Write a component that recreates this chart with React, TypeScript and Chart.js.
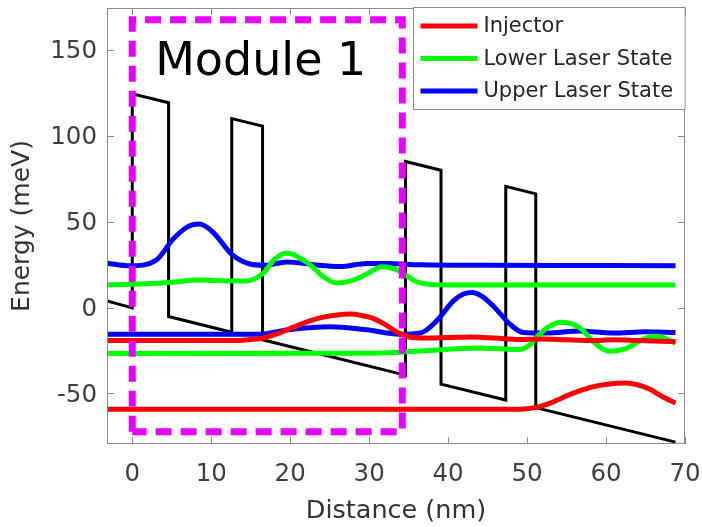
import React, { useEffect, useRef } from "react";
import { Chart, registerables } from "chart.js";

Chart.register(...registerables);

// ---- axes ----
const xTicks = [0, 10, 20, 30, 40, 50, 60, 70];
const yTicks = [-50, 0, 50, 100, 150];
const xMin = -3.2;
const xMax = 70;
const yMin = -79.5;
const yMax = 174.5;

// ---- conduction band profile (meV vs nm) ----
const bandX = [-3.2, 0, 0, 4.6, 4.6, 12.6, 12.6, 16.5, 16.5, 34.6, 34.6, 39.1, 39.1, 47.3, 47.3, 51.1, 51.1, 68.8];
const bandY = [3.8, -0.2, 124.5, 119.3, -5.2, -14.4, 110.1, 105.7, -18.8, -39.4, 85.1, 80.0, -44.6, -53.9, 70.6, 66.2, -58.3, -78.4];

// ---- module 1 states ----
const injector1X = [-3.2, 13, 14.5, 16.4, 18.5, 20.5, 22.5, 24.5, 26, 27.6, 29, 30.5, 32, 33.5, 35, 37, 40, 43, 46, 49, 52, 55, 58, 61, 64, 67, 68.8];
const injector1Y = [-19.2, -19.2, -18.8, -17.9, -15, -11.3, -7.8, -5.3, -4.3, -3.8, -4.6, -6.3, -9.8, -14.2, -17, -17.8, -17.5, -17.2, -17.8, -18.6, -18.3, -18.8, -19.2, -18.8, -19.2, -19.6, -19.8];

const lower1X = [-3.2, 0, 4.5, 8.6, 12.5, 14.5, 16.6, 18, 19.6, 21, 22.5, 24.2, 25.9, 27.7, 29.7, 31.6, 33.2, 34.6, 36, 37.5, 40, 68.8];
const lower1Y = [13.3, 13.5, 14.6, 16, 15.5, 15.5, 20, 28, 31.7, 29.5, 25, 18, 14.3, 15.5, 19.5, 23.8, 22.5, 19, 15, 13.5, 13.2, 13.2];

const upper1X = [-3.2, -0.3, 3, 5.2, 7, 8.5, 10.2, 12.6, 14.8, 16.8, 19.6, 22.9, 26.3, 29.7, 32.2, 36.5, 45, 55, 68.8];
const upper1Y = [25.8, 24.3, 27.5, 40, 47, 48.6, 44, 31, 25.5, 24.6, 26.6, 25, 23.9, 25.7, 25.7, 24.9, 24.6, 24.5, 24.4];

// ---- module 2 states ----
const injector2X = [-3.2, 49, 51, 53, 55, 57, 59, 61, 62.5, 64, 65.5, 67, 68.8];
const injector2Y = [-59.2, -59.2, -58.3, -55.5, -51.5, -48, -45.5, -44.2, -44, -45, -47.5, -51.5, -55.7];

const lower2X = [-3.2, 30, 34, 37.7, 41, 44, 47, 49.1, 50.4, 51.5, 52.8, 54.3, 55.7, 57, 58.4, 60.5, 62.6, 64.3, 66, 67.3, 68.8];
const lower2Y = [-26.8, -26.6, -26, -25, -24, -23.6, -24.2, -24.5, -21.5, -16, -11, -8.5, -9.5, -13, -20, -25.5, -23.8, -19.5, -16.8, -17.5, -20.8];

const upper2X = [-3.2, 16, 20, 25, 29.7, 33.8, 36.5, 38.6, 40.7, 42, 43.1, 44.3, 45.8, 47.9, 49.5, 52.5, 56.7, 60.9, 65, 68.8];
const upper2Y = [-15.6, -15.6, -12.8, -11.2, -13, -15.5, -14.8, -7.5, 4, 8, 8.8, 6.5, 0.5, -10, -14.5, -14.8, -13.6, -14.9, -14.1, -14.6];

// ---- module outline ----
const moduleBoxX = [0, 0, 34.2, 34.2, 0];
const moduleBoxY = [-72.4, 167.7, 167.7, -72.4, -72.4];
const moduleText = "Module 1";

const legendLabels = ["Injector", "Lower Laser State", "Upper Laser State"];

const RED = "#ff0000";
const GREEN = "#00ff00";
const BLUE = "#0000ff";
const MAGENTA = "#e600ff";
const FONT = '"DejaVu Sans", sans-serif';

const pts = (xs: number[], ys: number[]) => xs.map((x, i) => ({ x, y: ys[i] }));

const waveStyle = (color: string) => ({
  borderColor: color,
  backgroundColor: color,
  borderWidth: 5,
  pointRadius: 0,
  cubicInterpolationMode: "monotone" as const,
  fill: false,
  order: 1,
});

const framePlugin = {
  id: "frame",
  afterDatasetsDraw(chart: any) {
    const { ctx, chartArea, scales } = chart;
    const { left, right, top, bottom } = chartArea;
    const xs = scales.x;
    const ys = scales.y;
    ctx.save();
    // module label
    ctx.font = `46px ${FONT}`;
    ctx.fillStyle = "#000";
    ctx.textBaseline = "alphabetic";
    ctx.textAlign = "left";
    ctx.fillText(moduleText, xs.getPixelForValue(2.9), ys.getPixelForValue(135.6));

    // box
    ctx.strokeStyle = "#8c8c8c";
    ctx.lineWidth = 1;
    ctx.strokeRect(left + 0.5, top + 0.5, right - left - 1, bottom - top - 1);
    ctx.beginPath();
    xTicks.forEach((v) => {
      const px = Math.round(xs.getPixelForValue(v)) + 0.5;
      ctx.moveTo(px, bottom);
      ctx.lineTo(px, bottom - 7);
      ctx.moveTo(px, top);
      ctx.lineTo(px, top + 7);
    });
    yTicks.forEach((v) => {
      const py = Math.round(ys.getPixelForValue(v)) + 0.5;
      ctx.moveTo(left, py);
      ctx.lineTo(left + 7, py);
      ctx.moveTo(right, py);
      ctx.lineTo(right - 7, py);
    });
    ctx.stroke();

    // legend
    const items = chart.data.datasets.filter((d: any) => legendLabels.includes(d.label));
    ctx.font = `21px ${FONT}`;
    let maxW = 0;
    items.forEach((d: any) => {
      maxW = Math.max(maxW, ctx.measureText(d.label).width);
    });
    const boxW = 70 + maxW + 12;
    const boxH = 102;
    const bx = Math.round(right - boxW) + 0.5;
    const by = top - 0.5;
    ctx.fillStyle = "#fff";
    ctx.fillRect(bx, by, boxW, boxH);
    ctx.strokeStyle = "#8c8c8c";
    ctx.strokeRect(bx, by, boxW, boxH);
    items.forEach((d: any, i: number) => {
      const rowY = by + 18.5 + i * 32.5;
      ctx.strokeStyle = d.borderColor;
      ctx.lineWidth = 5;
      ctx.beginPath();
      ctx.moveTo(bx + 7, rowY);
      ctx.lineTo(bx + 64, rowY);
      ctx.stroke();
      ctx.fillStyle = "#262626";
      ctx.textBaseline = "middle";
      ctx.fillText(d.label, bx + 70, rowY + 1);
    });
    ctx.restore();
  },
};

export default function App() {
  const ref = useRef<HTMLCanvasElement | null>(null);
  useEffect(() => {
    if (!ref.current) return;
    const chart = new Chart(ref.current, {
      type: "line",
      data: {
        datasets: [
          {
            label: "module",
            data: pts(moduleBoxX, moduleBoxY),
            borderColor: MAGENTA,
            borderWidth: 7,
            borderDash: [16, 9],
            borderCapStyle: "butt",
            pointRadius: 0,
            tension: 0,
            fill: false,
            order: 0,
          } as any,
          { label: "Injector", data: pts(injector1X, injector1Y), ...waveStyle(RED) },
          { label: "Lower Laser State", data: pts(lower1X, lower1Y), ...waveStyle(GREEN) },
          { label: "Upper Laser State", data: pts(upper1X, upper1Y), ...waveStyle(BLUE) },
          { label: "injector2", data: pts(injector2X, injector2Y), ...waveStyle(RED) },
          { label: "lower2", data: pts(lower2X, lower2Y), ...waveStyle(GREEN) },
          { label: "upper2", data: pts(upper2X, upper2Y), ...waveStyle(BLUE) },
          {
            label: "band",
            data: pts(bandX, bandY),
            borderColor: "#000",
            borderWidth: 3,
            pointRadius: 0,
            tension: 0,
            fill: false,
            order: 2,
          },
        ],
      },
      options: {
        animation: false,
        responsive: false,
        maintainAspectRatio: false,
        parsing: false as any,
        layout: { padding: { left: 0, right: 17, top: 8, bottom: 0 } },
        plugins: {
          legend: { display: false },
          tooltip: { enabled: false },
        },
        scales: {
          x: {
            type: "linear",
            min: xMin,
            max: xMax,
            afterFit: (s: any) => {
              s.height = 83;
              s.paddingLeft = 0;
              s.paddingRight = 0;
            },
            afterBuildTicks: (s: any) => {
              s.ticks = xTicks.map((v) => ({ value: v }));
            },
            grid: { display: false, drawTicks: false },
            border: { display: false },
            ticks: {
              padding: 16,
              color: "#404040",
              font: { family: FONT, size: 24.5 },
              maxRotation: 0,
              callback: (v: any) => String(v),
            },
            title: {
              display: true,
              text: "Distance (nm)",
              color: "#333",
              font: { family: FONT, size: 25.5 },
              padding: { top: 0, bottom: 0 },
            },
          },
          y: {
            type: "linear",
            min: yMin,
            max: yMax,
            afterFit: (s: any) => {
              s.width = 107;
              s.paddingTop = 0;
              s.paddingBottom = 0;
            },
            afterBuildTicks: (s: any) => {
              s.ticks = yTicks.map((v) => ({ value: v }));
            },
            grid: { display: false, drawTicks: false },
            border: { display: false },
            ticks: {
              padding: 10,
              labelOffset: 2,
              color: "#404040",
              font: { family: FONT, size: 24.5 },
              callback: (v: any) => String(v),
            },
            title: {
              display: true,
              text: "Energy (meV)",
              color: "#333",
              font: { family: FONT, size: 25 },
              padding: { top: 7, bottom: 0 },
            },
          },
        },
      },
      plugins: [framePlugin],
    });
    return () => chart.destroy();
  }, []);
  return (
    <div style={{ position: "absolute", left: 0, top: 0, width: 702, height: 527, background: "#fff" }}>
      <canvas ref={ref} width={702} height={527} style={{ display: "block" }} />
    </div>
  );
}
